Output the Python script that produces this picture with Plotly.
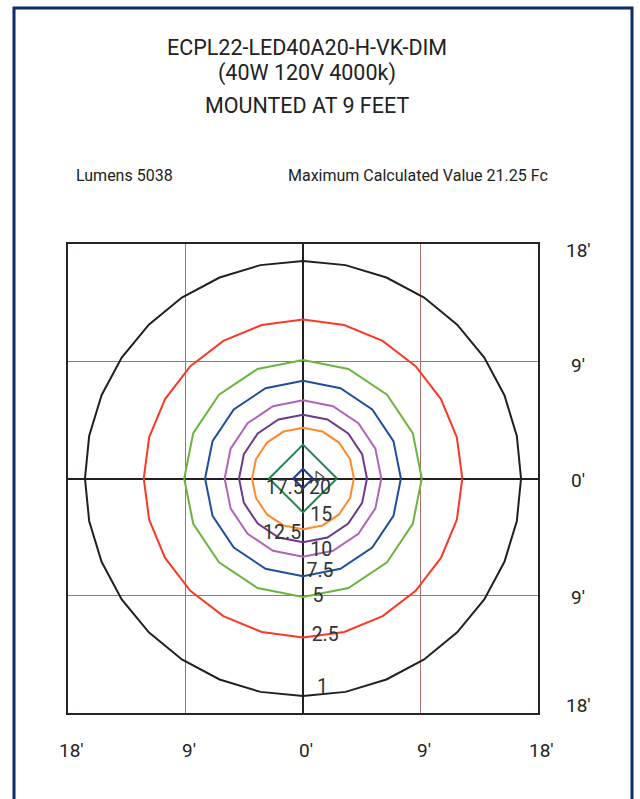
import numpy as np
import plotly.graph_objects as go

# ---------------- data ----------------
LEVELS = [1, 2.5, 5, 7.5, 10, 12.5, 15, 17.5, 20]
LEVEL_TEXT = ["1", "2.5", "5", "7.5", "10", "12.5", "15", "17.5", "20"]
RADII_FT = [16.7, 12.2, 9.1, 7.5, 6.0, 4.9, 3.9, 2.6, 0.75]
VERTICES = [32, 24, 16, 16, 16, 16, 16, 4, 4]
COLORS = ["#231f20", "#fa3a28", "#6cb43f", "#1f4e9c", "#b064b8",
          "#6b3a8c", "#ff8a2e", "#24864a", "#1e3d9a"]
LABEL_X = [1.5, 1.7, 1.15, 1.3, 1.4, -1.6, 1.4, -1.4, 1.3]
LABEL_Y = [-16.1, -12.1, -9.07, -7.16, -5.55, -4.25, -2.87, -0.8, -0.8]

TICK_VALUES = [-18, -9, 0, 9, 18]
X_TICK_TEXT = ["18′", "9′", "0′", "9′", "18′"]
Y_TICK_TEXT = ["18′", "9′", "0′", "9′", "18′"]

TITLE_LINES = ["ECPL22-LED40A20-H-VK-DIM", "(40W 120V 4000k)", "MOUNTED AT 9 FEET"]
LUMENS_TEXT = "Lumens 5038"
MAX_TEXT = "Maximum Calculated Value 21.25 Fc"

# ---------------- layout geometry ----------------
W, H = 640, 799
L, R, T, B = 68, 102, 244, 86
PW, PH = W - L - R, H - T - B


def px(x):
    return (x - L) / PW


def py(y):
    return (H - B - y) / PH


fig = go.Figure()

for lev, r, n, c in zip(LEVELS, RADII_FT, VERTICES, COLORS):
    ang = np.linspace(0, 2 * np.pi, n + 1)
    fig.add_trace(go.Scatter(
        x=r * np.cos(ang), y=r * np.sin(ang), mode="lines",
        line=dict(color=c, width=2), hoverinfo="skip", showlegend=False))

fig.add_trace(go.Scatter(
    x=LABEL_X, y=LABEL_Y, mode="text", text=LEVEL_TEXT,
    textfont=dict(family="Roboto", size=19.5, color="#333333"),
    hoverinfo="skip", showlegend=False))

# small marker near the peak
fig.add_trace(go.Scatter(
    x=[1.2], y=[0.12], mode="markers",
    marker=dict(symbol="triangle-right-open", size=10, color="#444444",
                line=dict(width=1.2)),
    hoverinfo="skip", showlegend=False))

ann = []
for v, t in zip(TICK_VALUES, X_TICK_TEXT):
    ann.append(dict(x=v, y=-18, xref="x", yref="y", text=t, showarrow=False,
                    yshift=-37, xshift=3, font=dict(family="Roboto", size=19, color="#222")))
y_shifts = [-6, -4, -2, -2, 8]
for v, t, s in zip(TICK_VALUES, Y_TICK_TEXT, y_shifts[::-1]):
    ann.append(dict(x=18, y=v, xref="x", yref="y", text=t, showarrow=False,
                    xshift=40, yshift=s, font=dict(family="Roboto", size=19, color="#222")))

for t, y in zip(TITLE_LINES, [48, 73, 106]):
    ann.append(dict(x=px(307), y=py(y), xref="paper", yref="paper", text=t,
                    showarrow=False, xanchor="center", yanchor="middle",
                    font=dict(family="Roboto", size=21.5, color="#222")))
ann.append(dict(x=px(74), y=py(175), xref="paper", yref="paper", text=LUMENS_TEXT,
                showarrow=False, xanchor="left", yanchor="middle",
                font=dict(family="Roboto", size=16, color="#222")))
ann.append(dict(x=px(550), y=py(175), xref="paper", yref="paper", text=MAX_TEXT,
                showarrow=False, xanchor="right", yanchor="middle",
                font=dict(family="Roboto", size=16, color="#222")))

shapes = [dict(type="path", xref="paper", yref="paper",
               path=f"M {px(14)} {py(820)} L {px(14)} {py(8)} L {px(632)} {py(8)} L {px(632)} {py(820)}",
               line=dict(color="#0b2d6b", width=3))]

axis_common = dict(range=[-18, 18], tickvals=TICK_VALUES, showticklabels=False,
                   ticks="", showgrid=True, gridcolor="#a8706a", gridwidth=1,
                   zeroline=True, zerolinecolor="#231f20", zerolinewidth=2,
                   showline=True, mirror=True, linecolor="#2a2222", linewidth=2,
                   fixedrange=True)

fig.update_layout(
    width=W, height=H, margin=dict(l=L, r=R, t=T, b=B, autoexpand=False),
    paper_bgcolor="white", plot_bgcolor="white",
    xaxis=axis_common, yaxis=axis_common,
    annotations=ann, shapes=shapes, showlegend=False)

fig.write_html("out.html", config={"displayModeBar": False},
               post_script="document.body.style.margin='0';document.body.style.overflow='hidden';")
